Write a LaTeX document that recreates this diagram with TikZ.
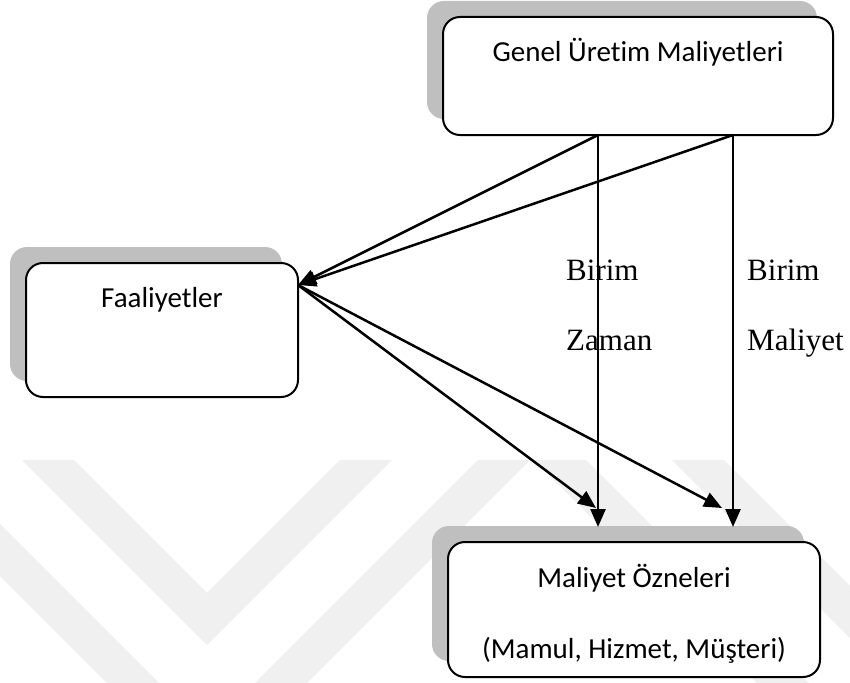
\documentclass[tikz,border=0pt]{standalone}
\usepackage{fontspec}
\setmainfont{Liberation Serif}
\newfontfamily\boxfont{Carlito}[Ligatures={NoCommon}]
\usetikzlibrary{arrows.meta,shadows}
\definecolor{shgray}{HTML}{BFBFBF}
\definecolor{wmgray}{HTML}{F0F0F0}
\begin{document}
\begin{tikzpicture}[x=1pt,y=-1pt,
  box/.style={draw=black, line width=2pt, rounded corners=17pt, fill=white,
    inner sep=0pt, outer sep=0pt,
    general shadow={fill=shgray, shadow xshift=-16pt, shadow yshift=16pt}},
  boxtext/.style={font=\boxfont\fontsize{29}{35}\selectfont, anchor=base, inner sep=0pt},
  lbl/.style={font=\fontsize{31}{37}\selectfont, anchor=base west, inner sep=0pt},
  arr/.style={line width=2.5pt, -{Triangle[length=18pt,width=15pt]}},
  wm/.style={line width=37pt, wmgray, line join=miter}]
\useasboundingbox (0,0) rectangle (850,682);

% faint chevron pattern in the lower half
\begin{scope}
  \clip (0,460) rectangle (850,682);
  \draw[wm] (-60,352) -- (207,619) -- (480,346);
  \draw[wm] (-60,490) -- (207,757) -- (560,404);
  \draw[wm] (600,362) -- (857,619) -- (1000,476);
  \draw[wm] (500,400) -- (857,757) -- (1000,614);
\end{scope}

% boxes
\node[box, minimum width=390pt, minimum height=118pt] (gum) at (638,76) {};
\node[box, minimum width=272pt, minimum height=134pt] (fa) at (162,330) {};
\node[box, minimum width=372pt, minimum height=135pt] (mo) at (634,609.5) {};

\node[boxtext] (gumt) at ([yshift=-45pt]gum.north) {Genel Üretim Maliyetleri};
\node[boxtext] (fat) at ([yshift=-44pt]fa.north) {Faaliyetler};
\node[boxtext] (mot1) at ([yshift=-45pt]mo.north) {Maliyet Özneleri};
\node[boxtext] (mot2) at ([yshift=-116pt]mo.north) {(Mamul, Hizmet, Müşteri)};

% labels beside the vertical connectors
\node[lbl] (b1) at (566,280) {Birim};
\node[lbl] (z1) at (566,350) {Zaman};
\node[lbl] (b2) at (747,280) {Birim};
\node[lbl] (m2) at (747,350) {Maliyet};

% connector end points
\coordinate (s1) at ([xshift=155pt]gum.south west);
\coordinate (s2) at ([xshift=290pt]gum.south west);
\coordinate (fin) at ([yshift=-22pt]fa.north east);
\path (s1 |- mo.north) ++(0,-15) coordinate (e1);
\path (s2 |- mo.north) ++(0,-15) coordinate (e2);
\coordinate (t1) at (596,508);
\coordinate (t2) at (722,508);

% connectors
\draw[arr] (s1) -- (fin);
\draw[arr] (s2) -- (fin);
\draw[arr] (s1) -- (e1);
\draw[arr] (s2) -- (e2);
\draw[arr] (fin) -- (t1);
\draw[arr] (fin) -- (t2);
\end{tikzpicture}
\end{document}
